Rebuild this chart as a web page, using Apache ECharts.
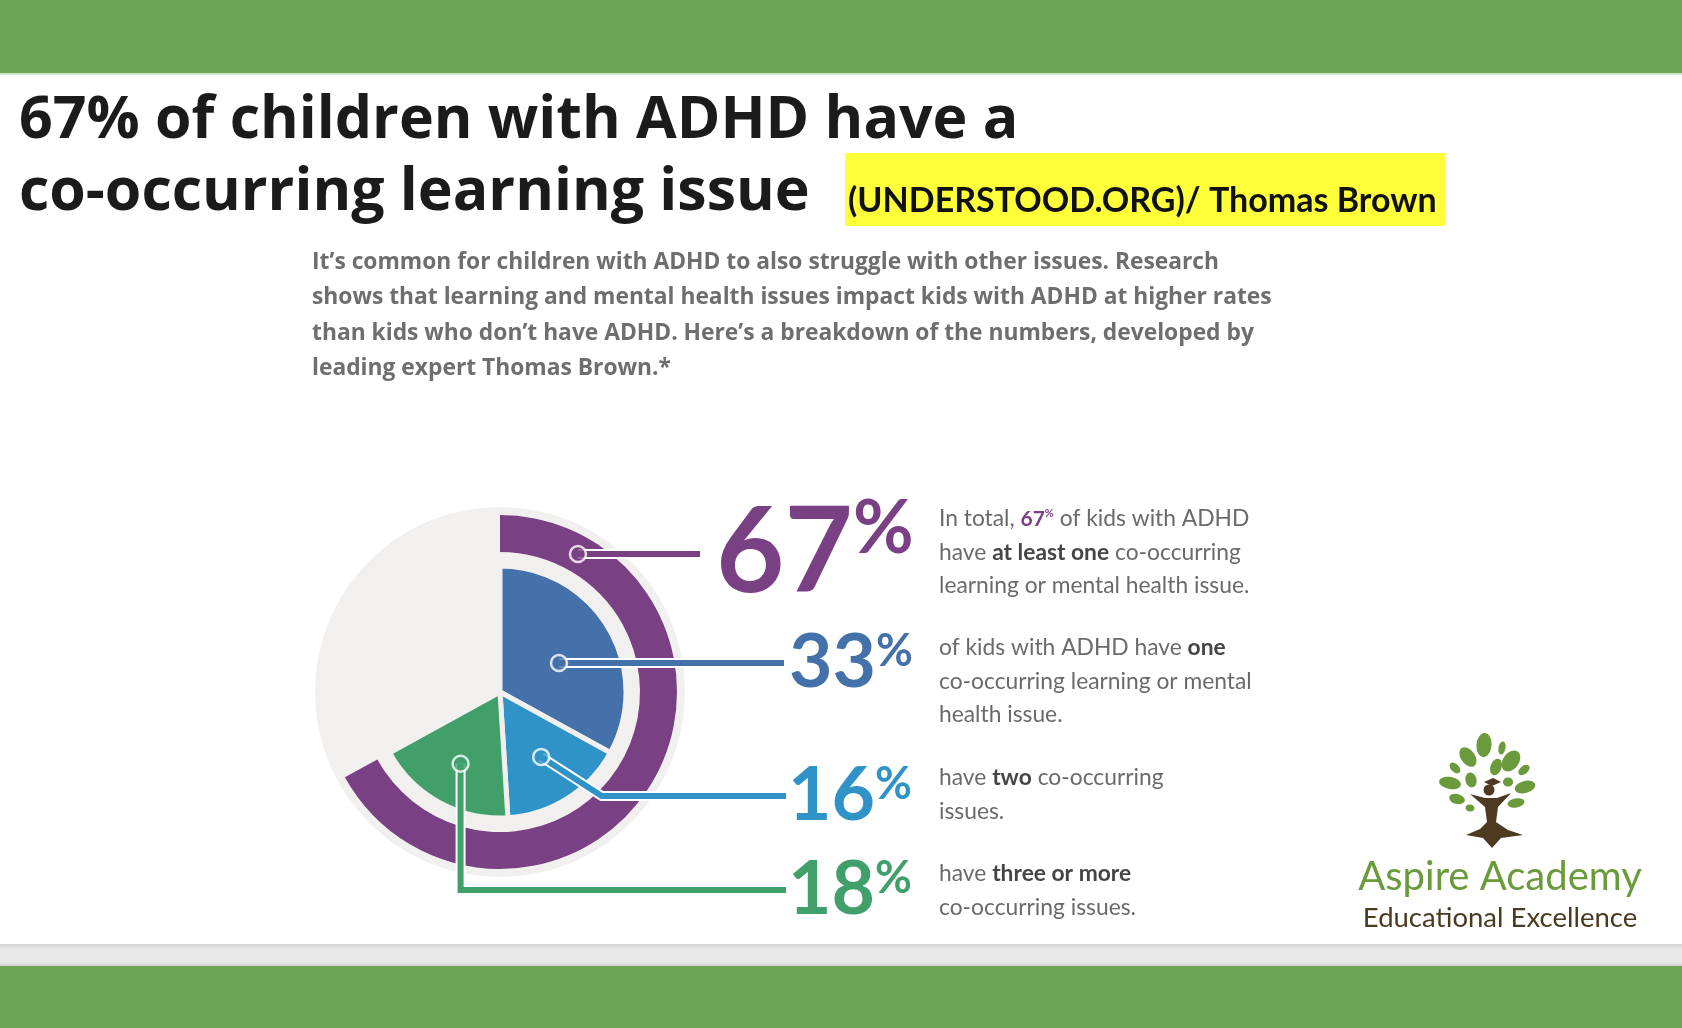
<!DOCTYPE html>
<html><head><meta charset="utf-8">
<script src="https://cdn.jsdelivr.net/npm/echarts@6/dist/echarts.min.js"></script>
<style>html,body{margin:0;padding:0;background:#fff}#c{width:1682px;height:1028px}</style>
</head><body><div id="c"></div>
<script>
// ---------- DATA ----------
const categories = ['At least one issue', 'One issue', 'Two issues', 'Three or more issues'];
const totalShare = 67;                 // % of kids with ADHD with at least one co-occurring issue
const breakdownShares = [33, 16, 18];  // one, two, three or more
const itemColors = ['#7a4084', '#4471a9', '#2f93c7', '#41a06a'];
const descriptions = [
  ['In total, {bp|' + totalShare + '}{sp|%} of kids with ADHD', 'have {b|at least one} co-occurring', 'learning or mental health issue.'],
  ['of kids with ADHD have {b|one}', 'co-occurring learning or mental', 'health issue.'],
  ['have {b|two} co-occurring', 'issues.'],
  ['have {b|three or more}', 'co-occurring issues.']
];
const introLines = [
  'It\u2019s common for children with ADHD to also struggle with other issues. Research',
  'shows that learning and mental health issues impact kids with ADHD at higher rates',
  'than kids who don\u2019t have ADHD. Here\u2019s a breakdown of the numbers, developed by',
  'leading expert Thomas Brown.*'
];
const titleLines = ['67% of children with ADHD have a', 'co-occurring learning issue'];
const sourceText = '(UNDERSTOOD.ORG)/ Thomas Brown';

// ---------- LAYOUT ----------
const CX = 500, CY = 692;
const R_BG = 185, RING = [140, 177], PIE_R = 126;
const LINE_Y = [554, 663, 796, 890];
const LABEL_X = [716, 789, 788, 788];
const LINE_END = [700, 784, 786, 786];
const DESC_X = 939, DESC_Y = [502, 631, 761, 857], DESC_LH = 33.5;
const BG_GRAY = '#f1f0ef';

const restShare = 100 - breakdownShares.reduce((a, b) => a + b, 0);
const mids = []; let acc = 0;
breakdownShares.forEach(v => { mids.push(acc + v / 2); acc += v; });

function pt(r, pct) { const a = pct / 100 * Math.PI * 2; return [CX + r * Math.sin(a), CY - r * Math.cos(a)]; }
function pctAtY(r, y) { return Math.acos((CY - y) / r) / (2 * Math.PI) * 100; }
const ringMid = (RING[0] + RING[1]) / 2;
const markers = [
  { r: ringMid, pct: pctAtY(ringMid, LINE_Y[0]) },
  { r: 124 * 0.53, pct: pctAtY(124 * 0.53, LINE_Y[1]) },
  { r: 124 * 0.62, pct: mids[1] },
  { r: 124 * 0.66, pct: mids[2] }
];
function leader(k) {
  const m = pt(markers[k].r, markers[k].pct);
  const y = LINE_Y[k];
  if (k === 2) return [m, [m[0] + (y - m[1]) * 1.55, y], [LINE_END[k], y]];
  if (k === 3) return [m, [m[0], y], [LINE_END[k], y]];
  return [m, [LINE_END[k], y]];
}

const rich = {};
itemColors.forEach((c, k) => {
  const big = k === 0;
  rich['n' + k] = { color: c, fontFamily: 'Lato', fontWeight: 'bold', fontSize: big ? 118 : 75, lineHeight: big ? 124 : 68 };
  rich['p' + k] = { color: c, fontFamily: 'Lato', fontWeight: 'bold', fontSize: big ? 74 : 45, lineHeight: big ? 74 : 45, verticalAlign: 'top' };
});
function labelFmt(k, v) { return '{n' + k + '|' + v + '}{p' + k + '|%}'; }
function layoutFor(k) {
  return { x: LABEL_X[k], y: LINE_Y[k], align: 'left', verticalAlign: 'middle' };
}

// ---------- TEXT STYLES ----------
const DF = 'Lato', DS = 22.8;
const descBase = { fontFamily: DF, fontSize: DS, fill: '#6a6a6a', lineHeight: DESC_LH };
const descRich = {
  b: { fontFamily: DF, fontSize: DS, fontWeight: 'bold', fill: '#454545', lineHeight: DESC_LH },
  bp: { fontFamily: DF, fontSize: 21, fontWeight: 'bold', fill: itemColors[0], lineHeight: DESC_LH },
  sp: { fontFamily: DF, fontSize: 11, fontWeight: 'bold', fill: itemColors[0], lineHeight: DESC_LH, verticalAlign: 'top', padding: [6, 0, 0, 0] }
};

const leaves = [
  [1484, 745, 7.5, 12, 5], [1468, 757, 7, 11, -35], [1502, 748, 3.5, 6.5, 10], [1511, 761, 8, 11.5, 35],
  [1455, 768, 4, 6.5, -45], [1496, 767, 5.5, 8.5, 20], [1524, 770, 4, 6.5, 50], [1450, 783, 11, 6, 10],
  [1471, 780, 5.5, 7.5, -15], [1508, 782, 5, 4.5, 0], [1525, 787, 10.5, 6, -15], [1457, 799, 8, 5, 15],
  [1516, 803, 8.5, 4.5, -10], [1470, 808, 4.5, 3.5, 10]
];

const graphics = [
  { type: 'rect', z: 0, shape: { x: 0, y: 0, width: 1682, height: 73 }, style: { fill: '#6ca555' } },
  { type: 'rect', z: 0, shape: { x: 0, y: 73, width: 1682, height: 2 }, style: { fill: '#cfe3c7' } },
  { type: 'rect', z: 0, shape: { x: 0, y: 944, width: 1682, height: 22 }, style: { fill: new echarts.graphic.LinearGradient(0, 0, 0, 1, [
      { offset: 0, color: '#d4d4d4' }, { offset: 0.25, color: '#e9e9e9' }, { offset: 0.8, color: '#e9e9e9' }, { offset: 1, color: '#d2d2d2' }]) } },
  { type: 'rect', z: 0, shape: { x: 0, y: 966, width: 1682, height: 62 }, style: { fill: '#6ca555' } },
  { type: 'rect', z: 0, shape: { x: 845, y: 153, width: 600, height: 73 }, style: { fill: '#ffff3a' } },
  { type: 'text', z: 5, x: 19, y: 121, style: { text: titleLines[0], fontFamily: 'Open Sans', fontWeight: 'bold', fontSize: 59, fill: '#1b1b1b', verticalAlign: 'middle' } },
  { type: 'text', z: 5, x: 19, y: 193, style: { text: titleLines[1], fontFamily: 'Open Sans', fontWeight: 'bold', fontSize: 59, fill: '#1b1b1b', verticalAlign: 'middle' } },
  { type: 'text', z: 5, x: 848, y: 201, style: { text: sourceText, fontFamily: 'Lato', fontWeight: 'bold', fontSize: 34, fill: '#111111', verticalAlign: 'middle' } },
  { type: 'text', z: 5, x: 312, y: 245, style: { text: introLines.join('\n'), fontFamily: 'Open Sans', fontWeight: 'bold', fontSize: 22.8, fill: '#6e6e6e', lineHeight: 35.3 } },
  { type: 'text', z: 5, x: 1500, y: 877, style: { text: 'Aspire Academy', fontFamily: 'Lato', fontSize: 40, fill: '#6a9a3b', align: 'center', verticalAlign: 'middle' } },
  { type: 'text', z: 5, x: 1500, y: 918, style: { text: 'Educational Excellence', fontFamily: 'Lato', fontSize: 27.5, fill: '#4a3a22', align: 'center', verticalAlign: 'middle' } },
  { type: 'polygon', z: 5, shape: { points: [[1470,794],[1485,798],[1497,798],[1511,793],[1498,807],[1496,822],[1508,830],[1523,835],[1501,838],[1492,848],[1483,838],[1466,835],[1480,829],[1487,822],[1485,807]] }, style: { fill: '#4d3a21' } },
  { type: 'circle', z: 5, shape: { cx: 1489, cy: 790, r: 5.5 }, style: { fill: '#4d3a21' } },
  { type: 'polygon', z: 5, shape: { points: [[1484,782],[1493,778],[1501,782],[1492,786]] }, style: { fill: '#4d3a21' } }
];
leaves.forEach(l => graphics.push({ type: 'ellipse', z: 5, x: l[0], y: l[1], rotation: -l[4] * Math.PI / 180, shape: { cx: 0, cy: 0, rx: l[2], ry: l[3] }, style: { fill: '#6a9a3b' } }));
descriptions.forEach((lines, k) => graphics.push({ type: 'text', z: 5, x: DESC_X, y: DESC_Y[k], style: Object.assign({ text: lines.join('\n'), rich: descRich }, descBase) }));
// leader lines (white halo + coloured line), derived from the pie geometry
itemColors.forEach((c, k) => {
  const pts = leader(k);
  graphics.push({ type: 'polyline', z: 6, silent: true, shape: { points: pts }, style: { stroke: '#ffffff', lineWidth: 10, fill: null, lineJoin: 'miter' } });
  graphics.push({ type: 'polyline', z: 7, silent: true, shape: { points: pts }, style: { stroke: c, lineWidth: 6, fill: null, lineJoin: 'miter' } });
});

const option = {
  animation: false,
  backgroundColor: '#ffffff',
  polar: { center: [CX, CY], radius: RING[1] },
  angleAxis: { type: 'value', min: 0, max: 100, startAngle: 90, clockwise: true, show: false, axisLine: { show: false }, splitLine: { show: false }, axisLabel: { show: false }, axisTick: { show: false } },
  radiusAxis: { type: 'value', min: 0, max: RING[1], show: false, axisLine: { show: false }, splitLine: { show: false }, axisLabel: { show: false }, axisTick: { show: false } },
  graphic: { elements: graphics },
  series: [
    { type: 'pie', silent: true, center: [CX, CY], radius: [0, R_BG], label: { show: false }, labelLine: { show: false },
      data: [{ value: 100, name: 'base', itemStyle: { color: BG_GRAY } }], z: 1 },
    { type: 'pie', silent: true, center: [CX, CY], radius: RING, startAngle: 90, clockwise: true, avoidLabelOverlap: false, z: 2,
      label: { show: true, position: 'outside', rich: rich, formatter: p => labelFmt(0, p.value) },
      labelLine: { show: false },
      labelLayout: p => p.dataIndex === 0 ? layoutFor(0) : {},
      data: [
        { value: totalShare, name: categories[0], itemStyle: { color: itemColors[0] } },
        { value: 100 - totalShare, name: 'none', itemStyle: { color: 'rgba(0,0,0,0)' }, label: { show: false } }
      ] },
    { type: 'pie', silent: true, center: [CX, CY], radius: [0, PIE_R], startAngle: 90, clockwise: true, avoidLabelOverlap: false, z: 2,
      label: { show: true, position: 'outside', rich: rich, formatter: p => labelFmt(p.dataIndex + 1, p.value) },
      labelLine: { show: false },
      labelLayout: p => p.dataIndex < 3 ? layoutFor(p.dataIndex + 1) : {},
      data: breakdownShares.map((v, i) => ({ value: v, name: categories[i + 1], itemStyle: { color: itemColors[i + 1], borderColor: BG_GRAY, borderWidth: 5 } }))
        .concat([{ value: restShare, name: 'rest', itemStyle: { color: 'rgba(0,0,0,0)' }, label: { show: false } }]) },
    { type: 'scatter', coordinateSystem: 'polar', silent: true, z: 10, symbol: 'circle', symbolSize: 16,
      data: markers.map((m, k) => ({ value: [m.r, m.pct], itemStyle: { color: itemColors[k], borderColor: '#ffffff', borderWidth: 2.5 } })) }
  ]
};
const chart = echarts.init(document.getElementById('c'));
chart.setOption(option);
</script></body></html>
